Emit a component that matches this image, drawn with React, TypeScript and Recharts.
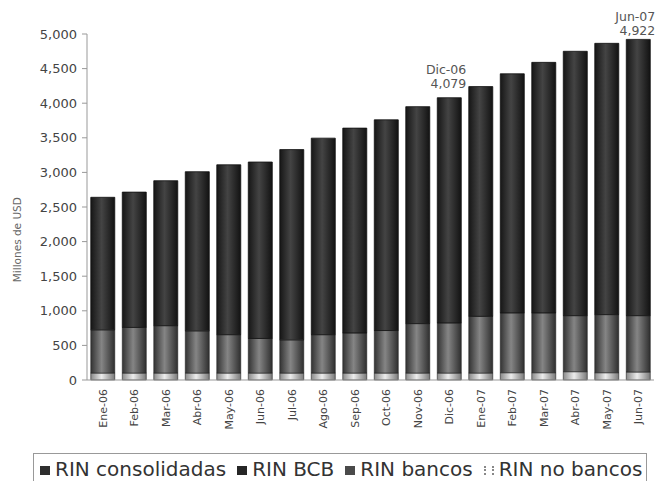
import { BarChart, Bar, XAxis, YAxis, Legend, LabelList } from 'recharts';

const months = ['Ene-06', 'Feb-06', 'Mar-06', 'Abr-06', 'May-06', 'Jun-06', 'Jul-06', 'Ago-06', 'Sep-06', 'Oct-06', 'Nov-06', 'Dic-06',
  'Ene-07', 'Feb-07', 'Mar-07', 'Abr-07', 'May-07', 'Jun-07'];
const rinConsolidadas = [2640, 2715, 2880, 3010, 3110, 3150, 3330, 3495, 3640, 3760, 3950, 4079, 4240, 4425, 4590, 4750, 4865, 4922];
const rinBCB = [1915, 1955, 2095, 2300, 2455, 2550, 2750, 2840, 2960, 3045, 3135, 3254, 3320, 3455, 3620, 3820, 3920, 3992];
const rinBancos = [625, 660, 685, 610, 555, 500, 480, 555, 580, 615, 715, 725, 820, 865, 865, 810, 840, 815];
const rinNoBancos = [100, 100, 100, 100, 100, 100, 100, 100, 100, 100, 100, 100, 100, 105, 105, 120, 105, 115];
const yTicks = [0, 500, 1000, 1500, 2000, 2500, 3000, 3500, 4000, 4500, 5000];

// months that get the "Mes / valor" note above the bar (baseline offsets from bar top)
const notes: Record<string, [number, number]> = { 'Dic-06': [-24, -10], 'Jun-07': [-18, -4] };

const data = months.map((m, i) => ({
  month: m,
  consolidadas: rinConsolidadas[i],
  bcb: rinBCB[i],
  bancos: rinBancos[i],
  noBancos: rinNoBancos[i],
}));

const FONT = '"DejaVu Sans", Verdana, sans-serif';
const fmt = (v: number) => v.toLocaleString('en-US');

function MonthTick({ x, y, payload }: any) {
  return (
    <text x={x} y={y} dy="0.35em" textAnchor="end" transform={`rotate(-90, ${x}, ${y})`}
      fontSize={11} fill="#444" fontFamily={FONT}>
      {payload.value}
    </text>
  );
}

function NoteLabel({ x, y, width, index }: any) {
  const m = months[index];
  const off = notes[m];
  if (!off) return null;
  const right = x + width + 5;
  return (
    <g fontSize={12.5} fill="#555" fontFamily={FONT} textAnchor="end">
      <text x={right} y={y + off[0]}>{m}</text>
      <text x={right} y={y + off[1]}>{fmt(rinConsolidadas[index])}</text>
    </g>
  );
}

const legendItems = [
  { name: 'RIN consolidadas', color: '#2e2e2e' },
  { name: 'RIN BCB', color: '#262626' },
  { name: 'RIN bancos', color: '#4a4a4a' },
  { name: 'RIN no bancos', color: 'dots' },
];

function LegendBox() {
  return (
    <div style={{ position: 'absolute', left: 33, top: 0, width: 614, height: 32, border: '1px solid #999',
      display: 'flex', alignItems: 'center', paddingLeft: 6, fontFamily: FONT, fontSize: 20, color: '#333',
      whiteSpace: 'nowrap', boxSizing: 'border-box', overflow: 'hidden' }}>
      {legendItems.map((it) => (
        <span key={it.name} style={{ display: 'flex', alignItems: 'center', marginRight: 11 }}>
          {it.color === 'dots'
            ? <span style={{ width: 6, height: 9, borderLeft: '2px dotted #888', borderRight: '2px dotted #888', marginRight: 5, marginTop: 3 }} />
            : <span style={{ width: 10, height: 9, background: it.color, marginRight: 5, marginTop: 3 }} />}
          {it.name}
        </span>
      ))}
    </div>
  );
}

export default function App() {
  return (
    <div style={{ position: 'absolute', left: 0, top: 0, width: 660, height: 481, background: '#fff', overflow: 'hidden' }}>
      <BarChart width={660} height={481} data={data} margin={{ top: 34, right: 6, left: 0, bottom: 0 }} barCategoryGap="12%">
        <defs>
          <linearGradient id="gDark" x1="0" y1="0" x2="1" y2="0">
            <stop offset="0" stopColor="#161616" />
            <stop offset="0.45" stopColor="#444" />
            <stop offset="1" stopColor="#121212" />
          </linearGradient>
          <linearGradient id="gMid" x1="0" y1="0" x2="1" y2="0">
            <stop offset="0" stopColor="#333" />
            <stop offset="0.45" stopColor="#858585" />
            <stop offset="1" stopColor="#2e2e2e" />
          </linearGradient>
          <linearGradient id="gLight" x1="0" y1="0" x2="1" y2="0">
            <stop offset="0" stopColor="#8a8a8a" />
            <stop offset="0.45" stopColor="#ececec" />
            <stop offset="1" stopColor="#7a7a7a" />
          </linearGradient>
        </defs>
        <XAxis dataKey="month" height={73} interval={0} tickSize={0} tickMargin={9} tick={<MonthTick />}
          axisLine={{ stroke: '#999' }} />
        <YAxis width={87} domain={[0, 5000]} ticks={yTicks} tickFormatter={fmt} tickSize={5} tickMargin={5}
          axisLine={{ stroke: '#999' }} tickLine={{ stroke: '#999' }}
          tick={{ fill: '#444', fontSize: 13, fontFamily: FONT }}
          label={{
            content: ({ viewBox }: any) => {
              const cx = viewBox.x + 17;
              const cy = viewBox.y + viewBox.height * 0.58 + 5;
              return (
                <text x={cx} y={cy} textAnchor="middle" dy="0.35em" transform={`rotate(-90, ${cx}, ${cy})`}
                  fontSize={10.5} fill="#666" fontFamily={FONT}>Millones de USD</text>
              );
            },
          }} />
        <Legend verticalAlign="bottom" height={28} content={() => <LegendBox />}
          wrapperStyle={{ left: 0, width: 660 }} />
        <Bar dataKey="noBancos" name="RIN no bancos" stackId="a" fill="url(#gLight)" stroke="#222" strokeWidth={0.6} isAnimationActive={false} />
        <Bar dataKey="bancos" name="RIN bancos" stackId="a" fill="url(#gMid)" stroke="#222" strokeWidth={0.6} isAnimationActive={false} />
        <Bar dataKey="bcb" name="RIN BCB" stackId="a" fill="url(#gDark)" stroke="#111" strokeWidth={0.8} isAnimationActive={false}>
          <LabelList dataKey="consolidadas" content={<NoteLabel />} />
        </Bar>
      </BarChart>
    </div>
  );
}
